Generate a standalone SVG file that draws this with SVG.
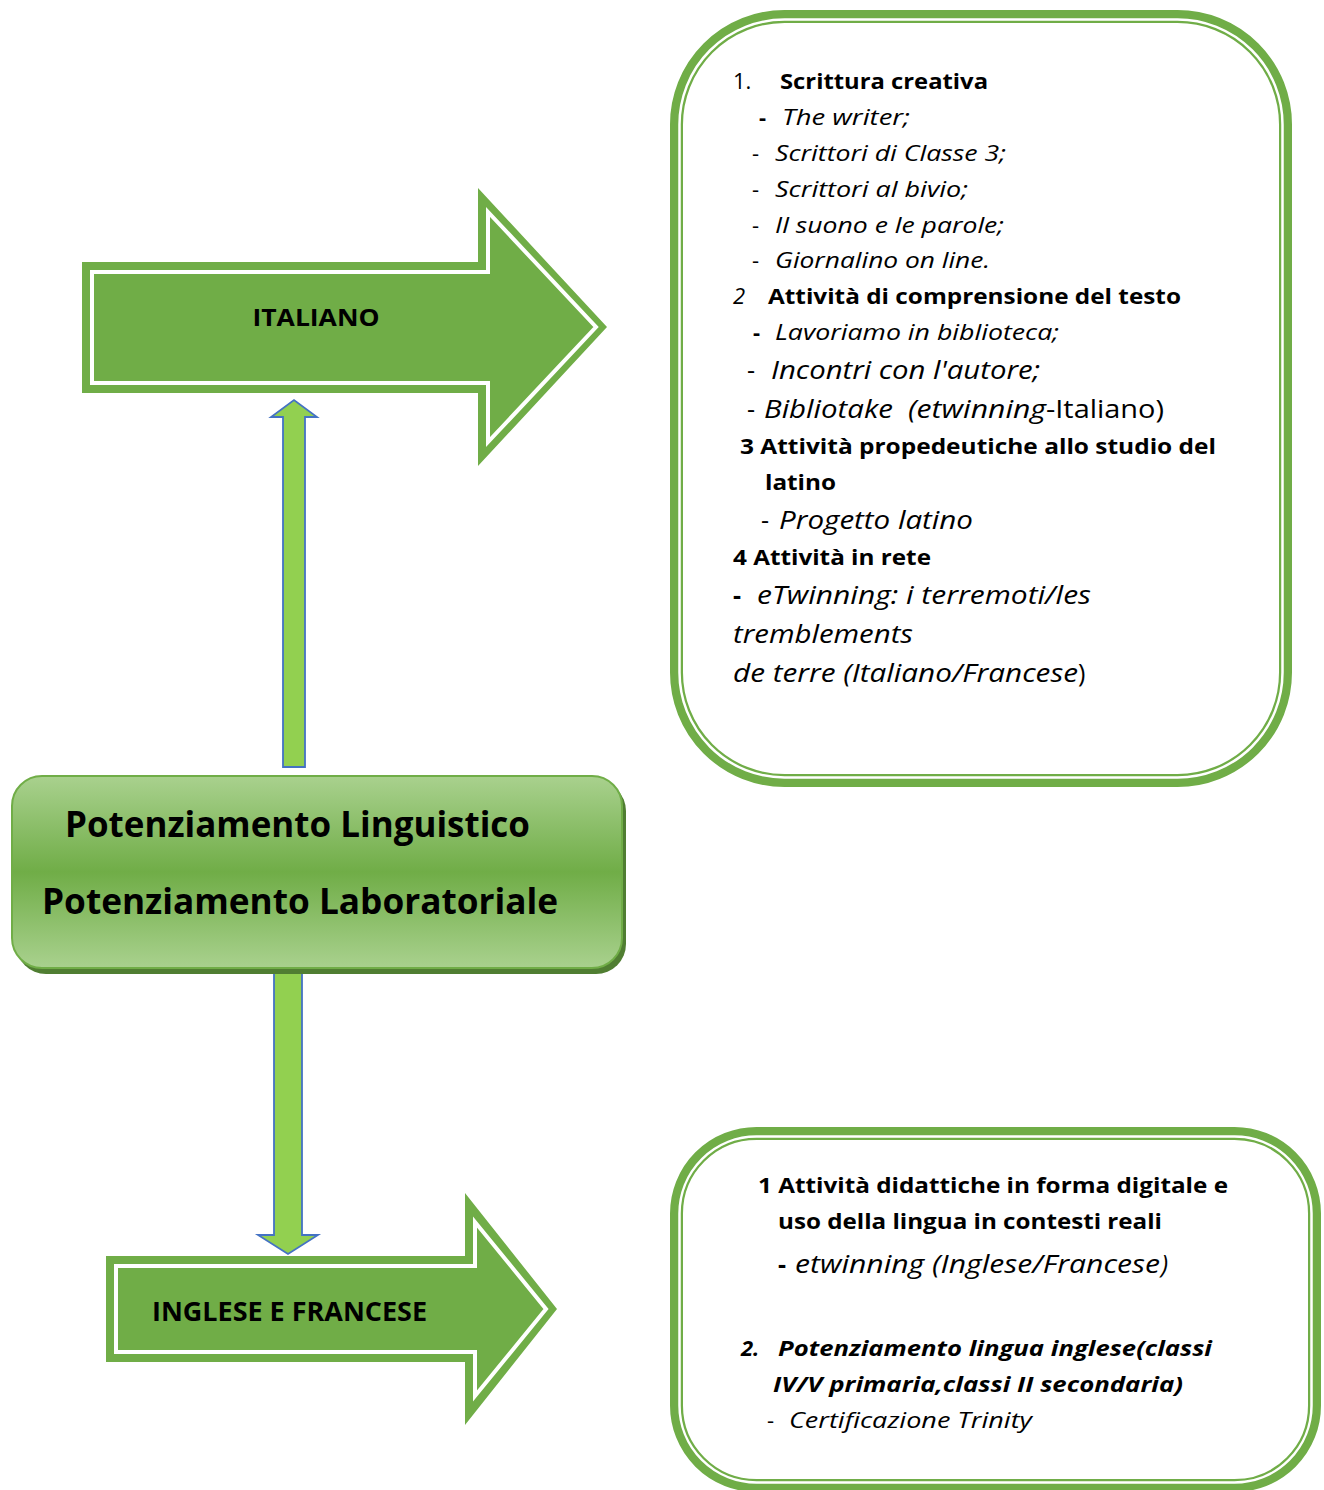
<svg xmlns="http://www.w3.org/2000/svg" width="1324" height="1490" viewBox="0 0 1324 1490">
<defs>
<linearGradient id="cg" x1="0" y1="0" x2="0" y2="1">
<stop offset="0" stop-color="#A9D18E"/>
<stop offset="0.5" stop-color="#70AD47"/>
<stop offset="1" stop-color="#A9D18E"/>
</linearGradient>
<style>
.t{font-family:"Open Sans","Noto Sans","Liberation Sans",sans-serif;fill:#000}
.b{font-weight:bold}
.i{font-style:italic}
.s{font-size:22px}
.m{font-size:25px}
.frame{fill:#fff;stroke:#70AD47;stroke-width:13}
.frameIn{fill:none;stroke:#fff;stroke-width:2.5}
.big{fill:#70AD47}
.bigIn{fill:#70AD47;stroke:#fff;stroke-width:4}
.conn{fill:#92D050;stroke:#4472C4;stroke-width:1.8}
</style>
</defs>
<rect width="1324" height="1490" fill="#fff"/>

<g id="connectors">
<polygon class="conn" points="283,767 283,417 271,417 294,400 317,417 305,417 305,767"/>
<polygon class="conn" points="274,968 302,968 302,1235 318,1235 288,1254 258,1235 274,1235"/>
</g>

<g id="italiano">
<polygon class="big" points="82,262 478,262 478,188 607,327 478,466 478,393 82,393"/>
<polygon class="bigIn" points="92,272 488,272 488,212 596,327 488,442 488,383 92,383"/>
<text class="t b" x="316" y="326" font-size="24" text-anchor="middle" textLength="127" lengthAdjust="spacingAndGlyphs">ITALIANO</text>
</g>

<g id="centro">
<rect x="16" y="781" width="610" height="193" rx="30" fill="#507E32"/>
<rect x="12" y="776" width="610" height="192" rx="30" fill="url(#cg)" stroke="#70AD47" stroke-width="2"/>
<text class="t b" x="65" y="837" font-size="35" textLength="465" lengthAdjust="spacingAndGlyphs">Potenziamento Linguistico</text>
<text class="t b" x="42" y="914" font-size="35" textLength="516" lengthAdjust="spacingAndGlyphs">Potenziamento Laboratoriale</text>
</g>

<g id="inglese">
<polygon class="big" points="106,1256 465,1256 465,1193 557,1309 465,1425 465,1362 106,1362"/>
<polygon class="bigIn" points="116,1266 475,1266 475,1222 546,1309 475,1396 475,1352 116,1352"/>
<text class="t b" x="152" y="1321" font-size="26" textLength="275" lengthAdjust="spacingAndGlyphs">INGLESE E FRANCESE</text>
</g>

<g id="box-italiano">
<rect class="frame" x="676.5" y="16.5" width="609" height="764" rx="108"/>
<rect class="frameIn" x="679.5" y="19.5" width="603" height="758" rx="105"/>
<text class="t s" x="733" y="89">1.</text>
<text class="t s b" x="780" y="89" textLength="208" lengthAdjust="spacingAndGlyphs">Scrittura creativa</text>
<text class="t s b" x="759" y="125">-</text>
<text class="t s i" x="782" y="125" textLength="128" lengthAdjust="spacingAndGlyphs">The writer;</text>
<text class="t s" x="752" y="161">-</text>
<text class="t s i" x="775" y="161" textLength="231" lengthAdjust="spacingAndGlyphs">Scrittori di Classe 3;</text>
<text class="t s" x="752" y="197">-</text>
<text class="t s i" x="775" y="197" textLength="193" lengthAdjust="spacingAndGlyphs">Scrittori al bivio;</text>
<text class="t s" x="752" y="233">-</text>
<text class="t s i" x="775" y="233" textLength="229" lengthAdjust="spacingAndGlyphs">Il suono e le parole;</text>
<text class="t s" x="752" y="268">-</text>
<text class="t s i" x="775" y="268" textLength="215" lengthAdjust="spacingAndGlyphs">Giornalino on line.</text>
<text class="t s i" x="733" y="304">2</text>
<text class="t s b" x="768" y="304" textLength="413" lengthAdjust="spacingAndGlyphs">Attività di comprensione del testo</text>
<text class="t s b" x="753" y="340">-</text>
<text class="t s i" x="775" y="340" textLength="284" lengthAdjust="spacingAndGlyphs">Lavoriamo in biblioteca;</text>
<text class="t m" x="747" y="379">-</text>
<text class="t m i" x="771" y="379" textLength="269" lengthAdjust="spacingAndGlyphs">Incontri con l'autore;</text>
<text class="t m" x="747" y="418">-</text>
<text class="t m i" x="764" y="418" textLength="129" lengthAdjust="spacingAndGlyphs">Bibliotake</text>
<text class="t m i" x="908" y="418" textLength="138" lengthAdjust="spacingAndGlyphs">(etwinning</text>
<text class="t m" x="1046" y="418" textLength="118" lengthAdjust="spacingAndGlyphs">-Italiano)</text>
<text class="t s b" x="740" y="454" textLength="476" lengthAdjust="spacingAndGlyphs">3 Attività propedeutiche allo studio del</text>
<text class="t s b" x="765" y="490" textLength="71" lengthAdjust="spacingAndGlyphs">latino</text>
<text class="t m" x="761" y="529">-</text>
<text class="t m i" x="779" y="529" textLength="194" lengthAdjust="spacingAndGlyphs">Progetto latino</text>
<text class="t s b" x="733" y="565" textLength="198" lengthAdjust="spacingAndGlyphs">4 Attività in rete</text>
<text class="t m b" x="733" y="604">-</text>
<text class="t m i" x="757" y="604" textLength="334" lengthAdjust="spacingAndGlyphs">eTwinning: i terremoti/les</text>
<text class="t m i" x="733" y="643" textLength="180" lengthAdjust="spacingAndGlyphs">tremblements</text>
<text class="t m i" x="733" y="682" textLength="345" lengthAdjust="spacingAndGlyphs">de terre (Italiano/Francese</text>
<text class="t m" x="1078" y="682">)</text>
</g>

<g id="box-inglese">
<rect class="frame" x="676.5" y="1133.5" width="638" height="352" rx="80"/>
<rect class="frameIn" x="679.5" y="1136.5" width="632" height="346" rx="77"/>
<text class="t s b" x="758" y="1193" textLength="470" lengthAdjust="spacingAndGlyphs">1 Attività didattiche in forma digitale e</text>
<text class="t s b" x="778" y="1229" textLength="384" lengthAdjust="spacingAndGlyphs">uso della lingua in contesti reali</text>
<text class="t m b" x="778" y="1273">-</text>
<text class="t m i" x="795" y="1273" textLength="365" lengthAdjust="spacingAndGlyphs">etwinning (Inglese/Francese</text>
<text class="t m i" x="1161" y="1273" font-size="30">)</text>
<text class="t s b i" x="741" y="1356">2.</text>
<text class="t s b i" x="778" y="1356" textLength="434" lengthAdjust="spacingAndGlyphs">Potenziamento lingua inglese(classi</text>
<text class="t s b i" x="773" y="1392" textLength="410" lengthAdjust="spacingAndGlyphs">IV/V primaria,classi II secondaria)</text>
<text class="t s" x="767" y="1428">-</text>
<text class="t s i" x="789" y="1428" textLength="243" lengthAdjust="spacingAndGlyphs">Certificazione Trinity</text>
</g>
</svg>
